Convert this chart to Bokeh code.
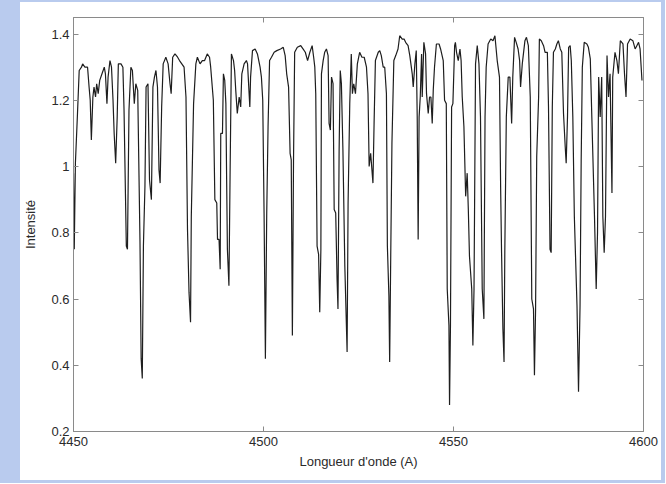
from bokeh.plotting import figure
from bokeh.models import FixedTicker, LinearAxis, CustomJSTickFormatter, Spacer, Range1d
from bokeh.layouts import row, column
from bokeh.embed import file_html
from bokeh.resources import INLINE

# ---- data ----
wavelength = [
    4450.0, 4450.2, 4450.5, 4451.05, 4451.5, 4452.1, 4452.4, 4453.0, 4453.7, 4454.1,
    4454.4, 4454.7, 4455.1, 4455.4, 4455.8, 4456.1, 4456.5, 4456.9, 4457.5, 4458.1,
    4458.4, 4458.8, 4459.1, 4459.6, 4460.0, 4460.4, 4460.7, 4461.1, 4461.5, 4461.8,
    4462.5, 4463.0, 4463.3, 4463.9, 4464.2, 4464.6, 4465.1, 4465.5, 4466.0, 4466.4,
    4466.9, 4467.5, 4467.8, 4468.1, 4468.4, 4468.8, 4469.1, 4469.6, 4470.0, 4470.5,
    4470.9, 4471.3, 4471.7, 4472.1, 4472.5, 4472.8, 4473.2, 4473.6, 4474.3, 4474.9,
    4475.4, 4475.7, 4476.1, 4476.7, 4477.4, 4477.9, 4478.5, 4479.1, 4479.6,
    4480.0, 4480.4, 4480.8, 4481.0, 4481.6, 4482.2, 4482.6, 4483.3, 4483.9, 4484.5,
    4485.2, 4485.8, 4486.1, 4486.8, 4487.2, 4487.7, 4487.9, 4488.3, 4488.6, 4488.75,
    4489.2, 4489.45, 4489.8, 4490.1, 4490.3, 4490.5, 4490.9, 4491.2, 4491.56, 4492.1,
    4492.4, 4492.7, 4493.1, 4493.6, 4494.0, 4494.3, 4494.9, 4495.5, 4495.8, 4496.4,
    4496.6, 4497.1, 4497.8, 4498.4, 4499.1, 4499.45, 4499.8, 4500.15, 4500.5, 4500.85,
    4501.2, 4501.6, 4502.1, 4502.8, 4503.5, 4504.5, 4505.2, 4505.7, 4506.1, 4506.6,
    4507.0, 4507.3, 4507.6, 4507.9, 4508.2, 4508.9,
    4509.8, 4510.4, 4511.0, 4511.6, 4512.2, 4512.8, 4513.2, 4513.5, 4513.75, 4514.1,
    4514.5, 4514.8, 4515.1, 4515.25, 4515.7, 4516.1, 4516.56, 4517.0, 4517.26, 4517.6,
    4517.9, 4518.3, 4518.6, 4519.0, 4519.36, 4519.6, 4519.9, 4520.2, 4520.5, 4520.9,
    4521.4, 4522.0, 4522.26, 4522.7, 4523.1, 4523.4, 4523.75, 4524.2, 4524.7, 4525.3,
    4525.9, 4526.5, 4527.1, 4527.5, 4527.8, 4528.2, 4528.8, 4529.1, 4529.45, 4530.2,
    4530.6, 4531.0, 4531.5, 4531.9, 4532.35, 4532.6, 4533.0, 4533.2, 4533.5, 4533.8,
    4534.3, 4534.8, 4535.4, 4535.85, 4536.5, 4537.0, 4537.4, 4538.05, 4538.5,
    4539.14, 4539.4, 4539.84, 4540.2, 4540.45, 4540.7, 4540.95, 4541.25, 4541.6, 4541.77,
    4542.2, 4542.65, 4542.9, 4543.35, 4543.7, 4544.05, 4544.4, 4544.67, 4545.0, 4545.5,
    4546.2, 4546.6, 4547.3, 4547.65, 4548.1, 4548.35, 4548.8, 4548.96, 4549.2, 4549.5,
    4549.84, 4550.3, 4550.5, 4550.8, 4551.25, 4551.7, 4552.0, 4552.3, 4552.74, 4553.2,
    4553.6, 4553.9, 4554.2, 4554.8, 4555.1, 4555.4, 4555.8, 4556.25, 4556.7, 4557.1,
    4557.56, 4558.0, 4558.3, 4558.6, 4559.1, 4559.8, 4560.4, 4560.9, 4561.5, 4562.1,
    4562.4, 4562.65, 4563.0, 4563.3, 4563.5, 4563.9, 4564.4, 4564.84, 4565.3, 4565.6,
    4566.07, 4566.5, 4567.0, 4567.4, 4567.65, 4568.1, 4568.8, 4569.2,
    4569.7, 4570.2, 4570.6, 4571.05, 4571.3, 4571.6, 4571.9, 4572.4, 4572.6, 4573.1,
    4573.7, 4574.1, 4574.7, 4575.0, 4575.4, 4575.7, 4576.0, 4576.3, 4576.8, 4577.2,
    4577.6, 4578.1, 4578.5, 4578.95, 4579.4, 4579.65, 4580.0, 4580.3, 4580.7, 4581.0,
    4581.4, 4581.8, 4582.5, 4582.9, 4583.3, 4583.6, 4583.9, 4584.4, 4585.1, 4585.5,
    4586.0, 4586.4, 4587.1, 4587.55, 4587.9, 4588.2, 4588.6, 4589.0, 4589.3, 4589.65,
    4590.0, 4590.4, 4590.8, 4591.2, 4591.7, 4591.9, 4592.5, 4593.0, 4593.4, 4593.9,
    4594.6, 4595.0, 4595.4, 4595.8, 4596.5, 4597.2, 4597.8, 4598.25, 4598.7, 4599.1,
    4599.6,
]
intensity = [
    0.98, 0.75, 1.01, 1.16, 1.29, 1.30, 1.31, 1.30, 1.30, 1.24,
    1.20, 1.08, 1.21, 1.24, 1.21, 1.25, 1.22, 1.26, 1.28, 1.30,
    1.28, 1.19, 1.27, 1.32, 1.30, 1.20, 1.10, 1.01, 1.15, 1.31,
    1.31, 1.30, 1.17, 0.76, 0.75, 1.17, 1.30, 1.29, 1.19, 1.25,
    1.23, 0.77, 0.42, 0.36, 0.76, 0.94, 1.24, 1.25, 0.96, 0.90,
    1.24, 1.27, 1.29, 1.24, 0.99, 0.95, 1.18, 1.31, 1.33, 1.31,
    1.25, 1.22, 1.33, 1.34, 1.33, 1.32, 1.31, 1.30, 1.21,
    0.81, 0.62, 0.53, 0.85, 1.19, 1.31, 1.33, 1.31, 1.32, 1.32,
    1.34, 1.33, 1.30, 1.20, 0.90, 0.89, 0.78, 0.78, 0.69, 1.10,
    1.10, 1.28, 1.26, 1.19, 0.96, 0.75, 0.64, 0.97, 1.34, 1.32,
    1.29, 1.23, 1.16, 1.21, 1.18, 1.28, 1.31, 1.32, 1.31, 1.18,
    1.27, 1.35, 1.355, 1.34, 1.30, 1.27, 1.20, 0.86, 0.42, 0.86,
    1.12, 1.32, 1.33, 1.345, 1.35, 1.355, 1.36, 1.335, 1.28, 1.24,
    1.04, 1.02, 0.49, 1.02, 1.345, 1.36,
    1.365, 1.355, 1.345, 1.32, 1.345, 1.365, 1.33, 1.30, 1.22, 0.76,
    0.735, 0.56, 0.75, 1.28, 1.32, 1.345, 1.355, 1.335, 1.13, 1.11,
    1.27, 1.25, 0.87, 0.86, 0.66, 0.57, 1.05, 1.29, 1.25, 1.05,
    0.70, 0.44, 0.89, 1.19, 1.34, 1.22, 1.25, 1.22, 1.31, 1.345,
    1.33, 1.33, 1.30, 1.22, 1.00, 1.04, 0.95, 1.13, 1.32, 1.345,
    1.35, 1.335, 1.30, 1.30, 1.22, 0.76, 0.61, 0.41, 0.75, 1.07,
    1.32, 1.335, 1.355, 1.395, 1.385, 1.385, 1.375, 1.365, 1.335,
    1.28, 1.24, 1.31, 1.35, 1.15, 0.78, 1.15, 1.21, 1.34, 1.21,
    1.375, 1.34, 1.22, 1.16, 1.21, 1.21, 1.13, 1.23, 1.30, 1.37,
    1.37, 1.355, 1.32, 1.20, 1.19, 0.63, 0.52, 0.28, 0.52, 1.18,
    1.19, 1.365, 1.375, 1.345, 1.32, 1.355, 1.32, 1.21, 1.12, 0.91,
    0.98, 0.87, 0.73, 0.63, 0.46, 0.63, 1.31, 1.365, 1.31, 1.15,
    0.63, 0.54, 1.15, 1.30, 1.37, 1.385, 1.38, 1.395, 1.32, 1.27,
    0.94, 0.74, 0.51, 0.41, 0.74, 1.15, 1.27, 1.27, 1.13, 1.27,
    1.39, 1.375, 1.355, 1.32, 1.24, 1.31, 1.38, 1.39,
    1.365, 1.21, 0.60, 0.57, 0.37, 0.57, 1.03, 1.21, 1.385, 1.38,
    1.365, 1.345, 1.345, 1.18, 0.75, 0.74, 1.18, 1.345, 1.355, 1.37,
    1.38, 1.355, 1.345, 1.16, 1.06, 1.01, 1.15, 1.36, 1.365, 1.32,
    1.15, 0.85, 0.58, 0.32, 0.58, 1.02, 1.30, 1.375, 1.37, 1.36,
    1.325, 1.15, 0.85, 0.63, 0.80, 1.27, 1.15, 1.27, 0.85, 0.74,
    0.85, 1.335, 1.21, 1.28, 0.92, 1.27, 1.345, 1.32, 1.28, 1.38,
    1.37, 1.28, 1.21, 1.37, 1.385, 1.38, 1.355, 1.365, 1.375, 1.355,
    1.26,
]
x_ticks = [4450, 4500, 4550, 4600]
y_ticks = [0.2, 0.4, 0.6, 0.8, 1, 1.2, 1.4]
x_label = "Longueur d'onde (A)"
y_label = "Intensité"

FONT = "Liberation Sans"
AXIS_GRAY = "#8a8a8a"
TEXT = "#2a2a2a"
BLUE = "#b9cbee"

p = figure(width=641, height=478, output_backend="svg", toolbar_location=None,
           x_range=Range1d(4450, 4600), y_range=Range1d(0.2, 1.45),
           min_border_left=53, min_border_right=18, min_border_top=15, min_border_bottom=49,
           background_fill_color="white", border_fill_color="white")
p.outline_line_color = AXIS_GRAY
p.outline_line_width = 1
p.xgrid.visible = False
p.ygrid.visible = False

p.line(wavelength, intensity, line_color="#1e1e1e", line_width=1.2)

fmt = CustomJSTickFormatter(code="return tick.toString();")

def style_axis(ax, ticks, show_labels=True):
    ax.ticker = FixedTicker(ticks=ticks)
    ax.axis_line_color = AXIS_GRAY
    ax.major_tick_line_color = AXIS_GRAY
    ax.major_tick_in = 5
    ax.major_tick_out = 0
    ax.minor_tick_line_color = None
    if show_labels:
        ax.formatter = fmt
        ax.major_label_text_font = FONT
        ax.major_label_text_font_size = "13px"
        ax.major_label_text_color = TEXT
        ax.axis_label_text_font = FONT
        ax.axis_label_text_font_size = "13px"
        ax.axis_label_text_font_style = "normal"
        ax.axis_label_text_color = TEXT
    else:
        ax.major_label_text_color = None
        ax.major_label_text_font_size = "1px"
        ax.major_label_standoff = 0

style_axis(p.xaxis[0], x_ticks)
style_axis(p.yaxis[0], y_ticks)
p.xaxis[0].axis_label = x_label
p.yaxis[0].axis_label = y_label
p.xaxis[0].major_label_standoff = 5
p.yaxis[0].major_label_standoff = 4
p.xaxis[0].axis_label_standoff = 5
p.yaxis[0].axis_label_standoff = 10

top = LinearAxis()
style_axis(top, x_ticks, show_labels=False)
p.add_layout(top, "above")
right = LinearAxis()
style_axis(right, y_ticks, show_labels=False)
p.add_layout(right, "right")

top_strip = Spacer(width=665, height=2, styles={"background-color": BLUE})
left_strip = Spacer(width=20, height=478, styles={"background-color": BLUE})
right_strip = Spacer(width=4, height=478, styles={"background-color": BLUE})
bottom_strip = Spacer(width=665, height=3, styles={"background-color": BLUE})
layout = column(top_strip, row(left_strip, p, right_strip), bottom_strip)

open("out.html", "w").write(file_html(layout, INLINE))
